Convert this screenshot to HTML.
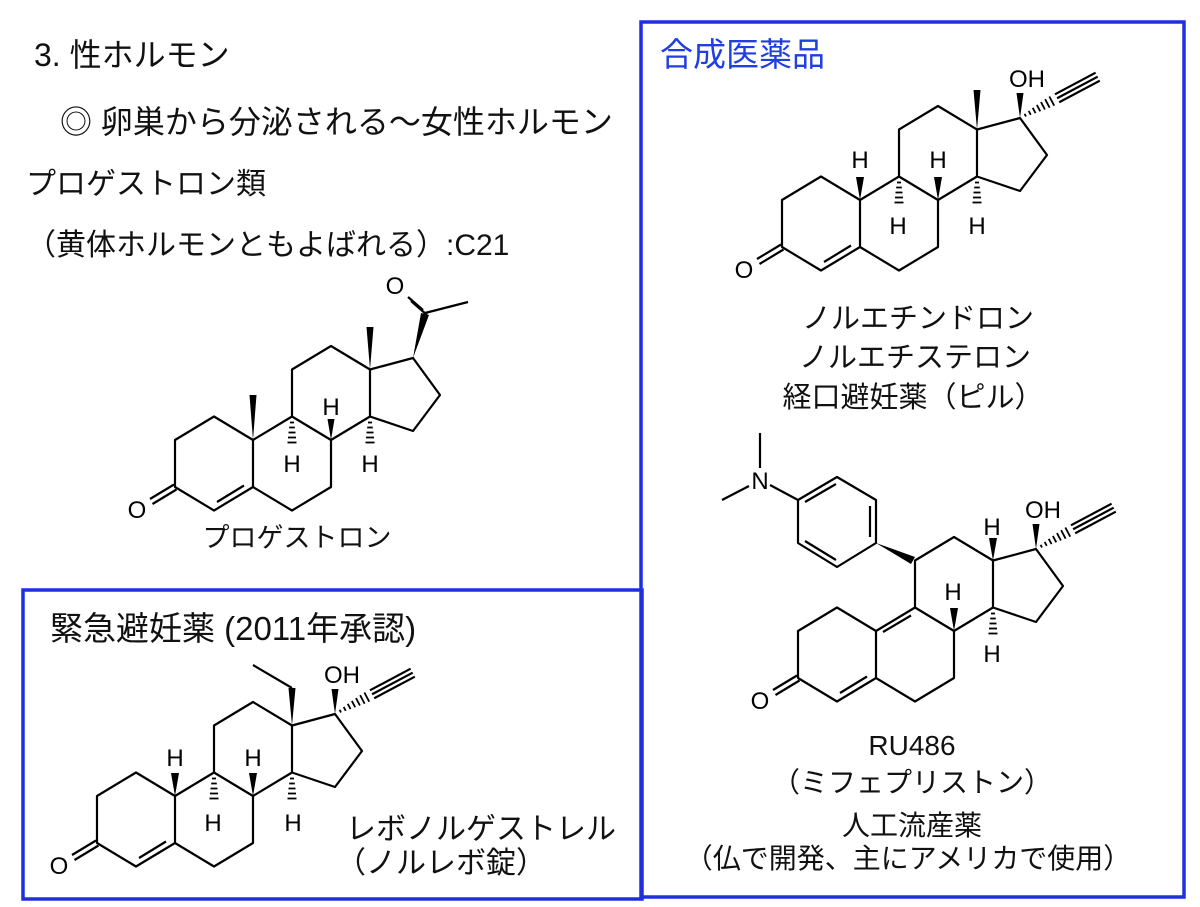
<!DOCTYPE html>
<html><head><meta charset="utf-8"><style>
html,body{margin:0;padding:0;background:#fff;}
svg{display:block;}
.t{font-family:"Liberation Sans","Noto Sans CJK JP",sans-serif;fill:#111;}
.a{font-family:"Liberation Sans",sans-serif;fill:#000;font-size:24px;text-anchor:middle;}
.b{stroke:#000;stroke-width:2.2;fill:none;stroke-linejoin:round;}
.h{stroke:#000;stroke-width:1.8;}
</style></head><body>
<svg width="1200" height="907" viewBox="0 0 1200 907" xmlns="http://www.w3.org/2000/svg">
<defs>
<g id="sk">
<path class="b" d="M-78,0 L-39,23.5 L0,0 L0,-47 L-39,-70.5 L-78,-47 Z M0,0 L39,23.5 L78,0 L78,-47 L39,-70.5 L0,-47 M39,-70.5 L39,-117.5 L78,-141 L117,-117.5 L117,-70.5 L78,-47 M117,-70.5 L160,-56 L187,-92 L160,-129 L117,-117.5"/>
<path class="b" d="M-36,15 L-9,-1.5 M-79,-2.5 L-103,12 M-76.5,2.5 L-100.5,17"/>
<text class="a" x="-116" y="31">O</text>
</g>
<g id="hdn">
<line class="h" x1="-2" y1="6" x2="2" y2="6"/><line class="h" x1="-2.8" y1="11" x2="2.8" y2="11"/><line class="h" x1="-3.5" y1="16" x2="3.5" y2="16"/><line class="h" x1="-4" y1="21" x2="4" y2="21"/><line class="h" x1="-4.5" y1="26" x2="4.5" y2="26"/>
</g>
<g id="eth">
<polygon points="160,-129 156.5,-154 163.5,-154" fill="#000"/>
<text class="a" x="167" y="-160">OH</text>
<g transform="translate(160,-129) rotate(-28)">
<line class="h" x1="6" y1="-1.5" x2="6" y2="1.5"/><line class="h" x1="11" y1="-2.2" x2="11" y2="2.2"/><line class="h" x1="16" y1="-3" x2="16" y2="3"/><line class="h" x1="21" y1="-3.6" x2="21" y2="3.6"/><line class="h" x1="26" y1="-4.2" x2="26" y2="4.2"/><line class="h" x1="31" y1="-4.8" x2="31" y2="4.8"/><line class="h" x1="36" y1="-5.2" x2="36" y2="5.2"/>
<path class="b" d="M42,-4.5 L88,-4.5 M42,0 L88,0 M42,4.5 L88,4.5"/>
</g>
</g>
</defs>

<g stroke="#1f2fe0" stroke-width="3.5" fill="none">
<rect x="641" y="22" width="543" height="875"/>
<rect x="23" y="590" width="619" height="309"/>
</g>

<text class="t" x="34" y="66" font-size="32">3. 性ホルモン</text>
<text class="t" x="60" y="133" font-size="32">◎ 卵巣から分泌される〜女性ホルモン</text>
<text class="t" x="26" y="194" font-size="30">プロゲストロン類</text>
<text class="t" x="26" y="255" font-size="30">（黄体ホルモンともよばれる）:C21</text>
<text class="t" x="660" y="66" font-size="33" style="fill:#1f3fe0">合成医薬品</text>

<!-- Progesterone -->
<g transform="translate(253,487)">
<use href="#sk"/>
<polygon points="0,-47 -3.5,-92 3.5,-92" fill="#000"/>
<polygon points="117,-117.5 113.5,-160 120.5,-160" fill="#000"/>
<polygon points="78,-47 74.5,-68 81.5,-68" fill="#000"/>
<text class="a" x="78" y="-72">H</text>
<use href="#hdn" transform="translate(39,-70.5)"/>
<text class="a" x="39" y="-15">H</text>
<use href="#hdn" transform="translate(117,-70.5)"/>
<text class="a" x="117" y="-15">H</text>
<polygon points="160,-129 168,-174 176,-172" fill="#000"/>
<path class="b" d="M172,-174 L215,-185 M170,-177 L155,-190 M174,-172 L158,-186"/>
<text class="a" x="142" y="-193">O</text>
</g>
<text class="t" x="297" y="547" font-size="27" text-anchor="middle">プロゲストロン</text>

<!-- Norethindrone -->
<g transform="translate(860,247)">
<use href="#sk"/>
<polygon points="0,-47 -4,-70 4,-70" fill="#000"/>
<text class="a" x="0" y="-79">H</text>
<polygon points="78,-47 74,-70 82,-70" fill="#000"/>
<text class="a" x="78" y="-79">H</text>
<use href="#hdn" transform="translate(39,-70.5)"/>
<text class="a" x="38" y="-13">H</text>
<use href="#hdn" transform="translate(117,-70.5)"/>
<text class="a" x="117" y="-13">H</text>
<polygon points="117,-117.5 113.5,-157 120.5,-157" fill="#000"/>
<use href="#eth"/>
</g>
<g class="t" font-size="29" text-anchor="middle">
<text x="918" y="328">ノルエチンドロン</text>
<text x="915" y="367">ノルエチステロン</text>
<text x="913" y="407">経口避妊薬（ピル）</text>
</g>

<!-- RU486 -->
<g transform="translate(876,678)">
<use href="#sk"/>
<path class="b" d="M7,-46 L35,-62.5"/>
<polygon points="0,-135 39,-121 35,-114" fill="#000"/>
<path class="b" d="M0,-135 L0,-178 L-39,-201 L-78,-178 L-78,-135 L-39,-111 Z M-6,-141 L-6,-172 M-71,-176 L-40,-194 M-71,-137 L-40,-118 M-78,-178 L-106,-193 M-116,-210 L-116,-245 M-127,-192 L-154,-178"/>
<text class="a" x="-116" y="-189">N</text>
<polygon points="78,-47 74,-70 82,-70" fill="#000"/>
<text class="a" x="77" y="-78">H</text>
<polygon points="117,-117.5 113,-140 121,-140" fill="#000"/>
<text class="a" x="116" y="-143">H</text>
<use href="#hdn" transform="translate(117,-70.5)"/>
<text class="a" x="116" y="-16">H</text>
<use href="#eth"/>
</g>
<g class="t" font-size="28" text-anchor="middle">
<text x="912" y="755">RU486</text>
<text x="912" y="792">（ミフェプリストン）</text>
<text x="912" y="835">人工流産薬</text>
<text x="908" y="868">（仏で開発、主にアメリカで使用）</text>
</g>

<!-- Levonorgestrel -->
<g transform="translate(175,843)">
<use href="#sk"/>
<polygon points="0,-47 -4,-70 4,-70" fill="#000"/>
<text class="a" x="0" y="-77">H</text>
<polygon points="78,-47 74,-70 82,-70" fill="#000"/>
<text class="a" x="78" y="-77">H</text>
<use href="#hdn" transform="translate(39,-70.5)"/>
<text class="a" x="38" y="-12">H</text>
<use href="#hdn" transform="translate(117,-70.5)"/>
<text class="a" x="118" y="-12">H</text>
<polygon points="117,-117.5 113.5,-155 120.5,-155" fill="#000"/>
<path class="b" d="M117,-155 L78,-178"/>
<use href="#eth"/>
</g>
<text class="t" x="50" y="640" font-size="33">緊急避妊薬 (2011年承認)</text>
<text class="t" x="346" y="839" font-size="30">レボノルゲストレル</text>
<text class="t" x="336" y="873" font-size="30">（ノルレボ錠）</text>
</svg>
</body></html>
